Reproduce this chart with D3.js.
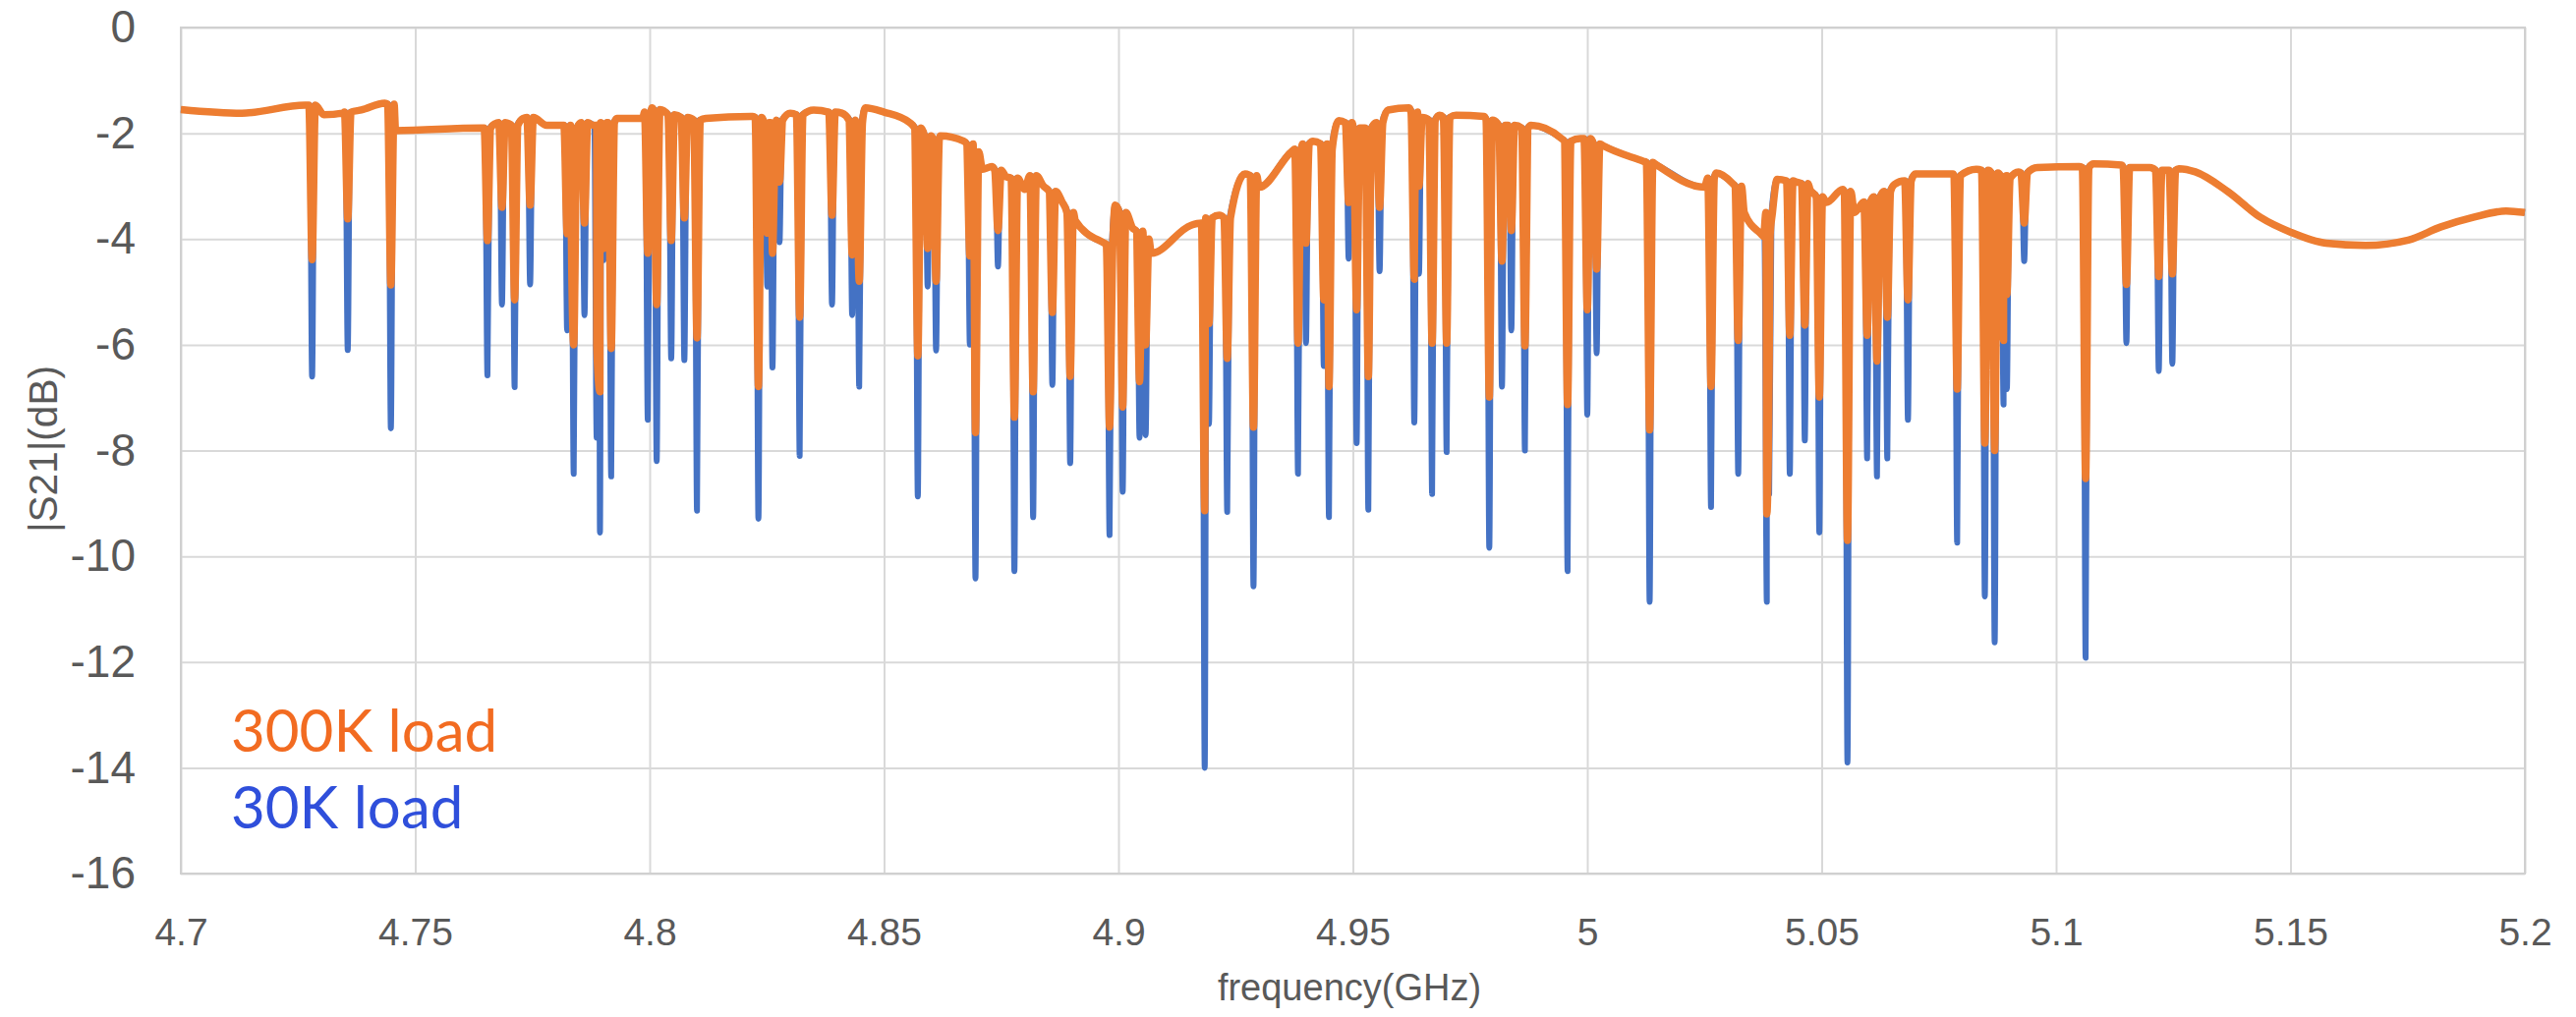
<!DOCTYPE html>
<html>
<head>
<meta charset="utf-8">
<script src="https://cdn.jsdelivr.net/npm/d3@7"></script>
<style>
  body { margin: 0; background: #fff; }
  .tick text { fill: #595959; }
</style>
</head>
<body>
<div id="myChart"></div>
<script>
// smooth background of |S21| between the resonances (GHz, dB)
var baseFreq = [4.700, 4.713, 4.7265, 4.7305, 4.7345, 4.7385, 4.7435, 4.7458, 4.764, 4.767,
  4.770, 4.773, 4.778, 4.793, 4.7985, 4.8005, 4.812, 4.822, 4.830, 4.835,
  4.841, 4.846, 4.850, 4.8555, 4.862, 4.867, 4.871, 4.873, 4.876, 4.880,
  4.884, 4.888, 4.8908, 4.897, 4.8993, 4.903, 4.907, 4.9155, 4.9215, 4.927,
  4.930, 4.937, 4.9415, 4.947, 4.9575, 4.962, 4.9655, 4.9685, 4.972, 4.978,
  4.988, 4.9945, 4.9985, 5.0035, 5.012, 5.0145, 5.025, 5.0275, 5.031, 5.0335,
  5.037, 5.0405, 5.0445, 5.0475, 5.051, 5.0545, 5.057, 5.0655, 5.070, 5.078,
  5.083, 5.092, 5.096, 5.105, 5.108, 5.114, 5.120, 5.1262, 5.1297, 5.1366,
  5.1436, 5.150, 5.1576, 5.166, 5.1751, 5.1821, 5.189, 5.196, 5.200];
var baseDb = [-1.55, -1.62, -1.47, -1.65, -1.62, -1.56, -1.43, -1.95, -1.90, -1.82,
  -1.82, -1.72, -1.85, -1.72, -1.72, -1.52, -1.72, -1.68, -1.62, -1.56,
  -1.62, -1.52, -1.60, -1.80, -2.05, -2.15, -2.68, -2.63, -2.82, -3.06,
  -3.00, -3.30, -3.65, -4.08, -3.36, -3.79, -4.27, -3.74, -3.55, -2.77,
  -3.02, -2.34, -2.15, -1.76, -1.56, -1.52, -1.71, -1.66, -1.66, -1.68,
  -1.85, -2.10, -2.10, -2.24, -2.53, -2.58, -3.02, -2.75, -2.95, -3.50,
  -3.90, -2.87, -2.92, -3.06, -3.31, -3.06, -3.50, -2.97, -2.77, -2.77,
  -2.68, -2.73, -2.65, -2.63, -2.58, -2.60, -2.65, -2.67, -2.73, -3.10,
  -3.59, -3.87, -4.08, -4.12, -4.02, -3.77, -3.59, -3.47, -3.50];

// resonance dips: centre, level at the shoulders, minimum with 300K load, minimum with 30K load
var dipFreq = [4.7280, 4.7356, 4.7448, 4.7654, 4.7685, 4.7712, 4.7745, 4.7824, 4.7838, 4.7861,
  4.7887, 4.7894, 4.7902, 4.7918, 4.7996, 4.8015, 4.8046, 4.8074, 4.8101, 4.8232,
  4.8251, 4.8262, 4.8277, 4.8320, 4.8389, 4.8432, 4.8447, 4.8572, 4.8593, 4.8611,
  4.8683, 4.8695, 4.8743, 4.8778, 4.8818, 4.8859, 4.8897, 4.8981, 4.9009, 4.9045,
  4.9058, 4.9184, 4.9193, 4.9232, 4.9288, 4.9383, 4.9400, 4.9438, 4.9449, 4.9491,
  4.9508, 4.9533, 4.9557, 4.9631, 4.9641, 4.9669, 4.9700, 4.9791, 4.9818, 4.9838,
  4.9867, 4.9958, 5.0000, 5.0020, 5.0133, 5.0264, 5.0322, 5.0383, 5.0388, 5.0432,
  5.0464, 5.0495, 5.0555, 5.0597, 5.0618, 5.0640, 5.0684, 5.0789, 5.0848, 5.0869,
  5.0888, 5.0895, 5.0932, 5.1063, 5.1150, 5.1219, 5.1248];
var dipTop = [-1.47, -1.60, -1.45, -1.90, -1.80, -1.85, -1.70, -1.85, -1.90, -1.80,
  -1.85, -1.85, -1.80, -1.80, -1.60, -1.55, -1.65, -1.70, -1.75, -1.70,
  -1.80, -1.80, -1.75, -1.65, -1.60, -1.75, -1.80, -1.90, -2.05, -2.10,
  -2.20, -2.35, -2.70, -2.85, -2.80, -3.10, -3.50, -4.10, -3.50, -3.85,
  -4.00, -3.70, -3.60, -3.60, -2.80, -2.30, -2.20, -2.20, -2.30, -1.80,
  -1.90, -1.90, -1.80, -1.60, -1.70, -1.75, -1.70, -1.75, -1.85, -1.85,
  -1.90, -2.15, -2.10, -2.20, -2.55, -2.85, -3.00, -3.95, -3.50, -2.90,
  -2.95, -3.20, -3.10, -3.30, -3.20, -3.10, -2.90, -2.80, -2.70, -2.75,
  -2.80, -2.85, -2.75, -2.65, -2.65, -2.70, -2.70];
var dip300K = [-4.39, -3.62, -4.87, -4.03, -3.40, -5.15, -3.36, -3.90, -6.00, -3.70,
  -6.00, -6.89, -4.18, -6.07, -4.27, -5.24, -4.03, -3.60, -5.87, -6.79,
  -3.89, -4.27, -2.92, -5.48, -3.55, -4.30, -4.80, -6.21, -4.18, -4.80,
  -4.32, -7.66, -3.84, -7.37, -6.89, -5.39, -6.60, -7.56, -7.18, -6.70,
  -6.00, -9.14, -5.60, -6.26, -7.56, -5.97, -4.08, -5.15, -6.79, -3.31,
  -5.34, -6.60, -3.40, -4.76, -3.00, -5.97, -5.97, -6.99, -4.42, -3.84,
  -6.02, -7.13, -5.34, -4.57, -7.61, -6.79, -5.92, -9.20, -6.50, -5.82,
  -5.63, -6.99, -9.70, -5.82, -6.31, -5.48, -5.15, -6.84, -7.86, -8.00,
  -5.92, -5.05, -3.70, -8.53, -4.86, -4.71, -4.66];
var dip30K = [-6.60, -6.10, -7.58, -6.58, -5.24, -6.80, -4.86, -5.73, -8.44, -5.44,
  -7.76, -9.55, -4.40, -8.49, -7.42, -8.20, -6.26, -6.29, -9.14, -9.29,
  -4.90, -6.43, -4.06, -8.10, -5.24, -5.44, -6.79, -8.87, -4.90, -6.11,
  -6.00, -10.42, -4.52, -10.28, -9.26, -6.76, -8.24, -9.60, -8.78, -7.76,
  -7.71, -14.00, -7.50, -9.16, -10.57, -8.44, -5.97, -6.40, -9.26, -4.37,
  -7.86, -9.12, -4.61, -7.47, -4.66, -8.82, -8.03, -9.84, -6.79, -5.73,
  -8.00, -10.28, -7.32, -6.16, -10.86, -9.07, -8.44, -10.86, -8.82, -8.44,
  -7.81, -9.55, -13.90, -8.15, -8.49, -8.15, -7.42, -9.74, -10.76, -11.63,
  -7.13, -6.84, -4.42, -11.92, -5.97, -6.50, -6.36];

var xTicks = [4.7, 4.75, 4.8, 4.85, 4.9, 4.95, 5, 5.05, 5.1, 5.15, 5.2];
var xTickLabels = ["4.7", "4.75", "4.8", "4.85", "4.9", "4.95", "5", "5.05", "5.1", "5.15", "5.2"];
var yTicks = [0, -2, -4, -6, -8, -10, -12, -14, -16];
var seriesNames = ["300K load", "30K load"];

const margin = { top: 28, right: 52, bottom: 146, left: 184 };
const width = 2621 - margin.left - margin.right;
const height = 1035 - margin.top - margin.bottom;

var svg = d3
  .select("#myChart")
  .append("svg")
  .attr("width", width + margin.left + margin.right)
  .attr("height", height + margin.top + margin.bottom)
  .append("g")
  .attr("transform", "translate(" + margin.left + "," + margin.top + ")");

var x = d3.scaleLinear().domain([4.7, 5.2]).range([0, width]);
var y = d3.scaleLinear().domain([-16, 0]).range([height, 0]);

// grid + y axis
var yAxis = svg.append("g")
  .call(d3.axisLeft(y).tickValues(yTicks).tickSize(-width).tickPadding(46)
    .tickFormat(function(d) { return String(d); }));
yAxis.select(".domain").remove();
yAxis.selectAll("line").attr("stroke", "#d9d9d9").attr("stroke-width", 2);
yAxis.selectAll("text")
  .style("font-family", "'Liberation Sans', Arial, sans-serif")
  .style("font-size", "46px");

var xAxis = svg.append("g")
  .attr("transform", "translate(0," + height + ")")
  .call(d3.axisBottom(x).tickValues(xTicks).tickSize(-height).tickPadding(45)
    .tickFormat(function(d, i) { return xTickLabels[i]; }));
xAxis.select(".domain").remove();
xAxis.selectAll("line").attr("stroke", "#d9d9d9").attr("stroke-width", 2);
xAxis.selectAll("text")
  .style("font-family", "'Liberation Sans', Arial, sans-serif")
  .style("font-size", "39px");

svg.append("rect")
  .attr("width", width)
  .attr("height", height)
  .attr("fill", "none")
  .attr("stroke", "#d0d0d0")
  .attr("stroke-width", 2);

// build one trace: background points plus a narrow notch per resonance
function trace(mins, notch) {
  var pts = baseFreq.map(function(f, i) { return [f, baseDb[i]]; });
  dipFreq.forEach(function(f, i) {
    pts.push([f - notch, dipTop[i]], [f, mins[i]], [f + notch, dipTop[i]]);
  });
  pts.sort(function(a, b) { return a[0] - b[0]; });
  return pts;
}

var line = d3.line()
  .x(function(d) { return x(d[0]); })
  .y(function(d) { return y(d[1]); })
  .curve(d3.curveMonotoneX);

svg.append("path")
  .datum(trace(dip30K, 0.0005))
  .attr("d", line)
  .attr("fill", "none")
  .attr("stroke", "#4472C4")
  .attr("stroke-width", 6)
  .attr("stroke-linejoin", "round");

svg.append("path")
  .datum(trace(dip300K, 0.0007))
  .attr("d", line)
  .attr("fill", "none")
  .attr("stroke", "#ED7D31")
  .attr("stroke-width", 7.5)
  .attr("stroke-linejoin", "round");

// legend text inside the plot
svg.selectAll(".legend")
  .data(seriesNames)
  .enter()
  .append("text")
  .attr("x", 51)
  .attr("y", function(d, i) { return 737 + i * 78; })
  .attr("fill", function(d, i) { return i === 0 ? "#F26B21" : "#2F4FDB"; })
  .style("font-family", "Lato, 'Open Sans', sans-serif")
  .style("font-size", "60px")
  .text(function(d) { return d; });

// axis titles
svg.append("text")
  .attr("x", 1373 - margin.left)
  .attr("y", 1018 - margin.top)
  .attr("text-anchor", "middle")
  .attr("fill", "#595959")
  .style("font-family", "'Liberation Sans', Arial, sans-serif")
  .style("font-size", "38px")
  .text("frequency(GHz)");

svg.append("text")
  .attr("transform", "translate(" + (58 - margin.left) + "," + (457 - margin.top) + ") rotate(-90)")
  .attr("text-anchor", "middle")
  .attr("fill", "#595959")
  .attr("textLength", 170)
  .attr("lengthAdjust", "spacingAndGlyphs")
  .style("font-family", "'Liberation Sans', Arial, sans-serif")
  .style("font-size", "40px")
  .text("|S21|(dB)");
</script>
</body>
</html>
